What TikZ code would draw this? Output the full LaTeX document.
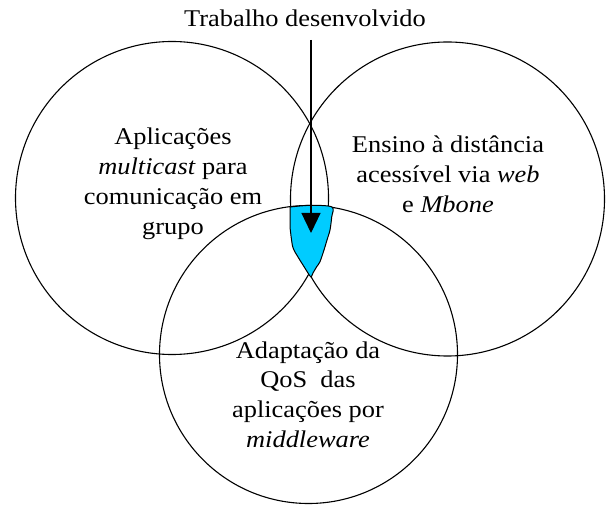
\documentclass[tikz,border=0pt]{standalone}
\usepackage{fontspec}
\setmainfont{Liberation Serif}[FakeStretch=1.1]
\usetikzlibrary{arrows.meta,positioning}
\definecolor{turquesa}{RGB}{0,204,255}

\tikzset{
  conjunto/.style={circle, draw, line width=1.1pt, inner sep=0pt},
  rotulo/.style={align=center, inner sep=0pt, font=\fontsize{24}{30}\selectfont},
  seta/.style={line width=1.2pt, -{Triangle[width=19pt,length=20pt]}},
}

\begin{document}
\begin{tikzpicture}[x=1pt,y=-1pt]
  \useasboundingbox (0,0) rectangle (606,505);
  % conjuntos
  \node[conjunto, minimum size=313pt] (grupo) at (172,198) {};
  \node[conjunto, minimum size=314pt] (ensino) at (447.5,199) {};
  \node[conjunto, minimum size=298pt] (qos) at (308.5,354.5) {};
  % intersecção dos tres
  \filldraw[fill=turquesa, line width=1pt] plot[smooth, tension=0.5] coordinates {
    (290,207) (311,205.3) (332,207) (331.7,217) (330,230) (327,240) (324,250)
    (320,261.7) (316.7,266.7) (313,273) (311,277) (308,273) (303,265) (298,257)
    (292.7,246.7) (290,227)} -- cycle;
  % rotulos (base = ultima linha)
  \node[rotulo, anchor=base] (aplic) at (173,235)
    {Aplicações\\\textit{multicast} para\\comunicação em\\grupo};
  \node[rotulo, anchor=base] (distancia) at (448,213)
    {Ensino à distância\\acessível via \textit{web}\\e \textit{Mbone}};
  \node[rotulo, anchor=base] (adapt) at (308,448)
    {Adaptação da\\QoS~~das\\aplicações por\\\textit{middleware}};
  \node[rotulo, anchor=base] (trabalho) at (305,27) {Trabalho desenvolvido};
  % seta
  \coordinate (inicio) at (311,40);
  \coordinate (ponta) at (311,233);
  \draw[seta] (inicio) -- (ponta);
\end{tikzpicture}
\end{document}
